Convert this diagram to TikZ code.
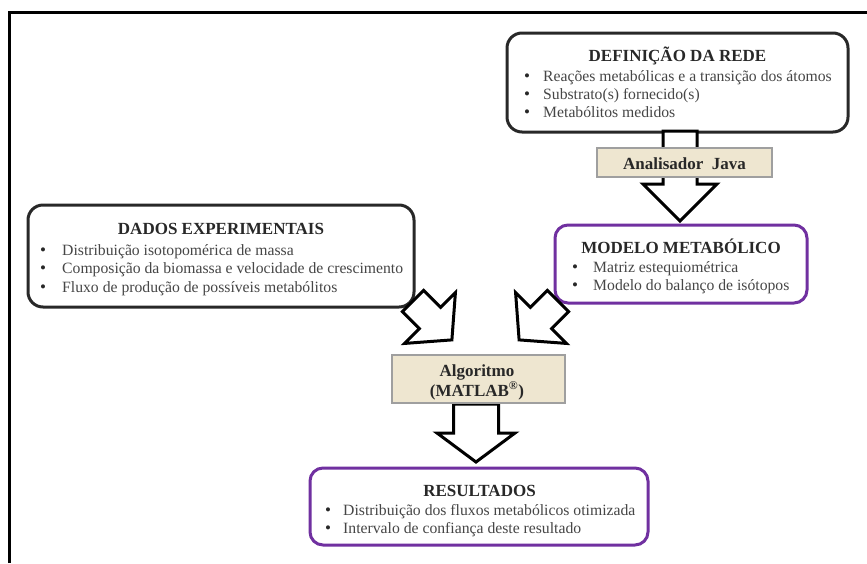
\documentclass[tikz,border=0pt]{standalone}
\usepackage{fontspec}
\setmainfont{Liberation Serif}
\definecolor{purp}{RGB}{112,48,160}
\definecolor{beige}{RGB}{238,230,208}
\definecolor{ink}{RGB}{40,40,40}
\definecolor{body}{RGB}{70,70,70}
% block arrow: tail point, direction angle, length, shaft half width, head half width, head length
\newcommand\blockarrow[7]{%
  \begin{scope}[shift={(#1,#2)},rotate=#3]
    \draw[arrowline] (0,-#5) -- ({#4-#7},-#5) -- ({#4-#7},-#6) -- (#4,0)
      -- ({#4-#7},#6) -- ({#4-#7},#5) -- (0,#5) -- cycle;
  \end{scope}}
\begin{document}
\begin{tikzpicture}[x=1pt,y=-1pt,
  darkbox/.style={draw=ink,line width=3pt,rounded corners=15pt,fill=white,inner sep=0pt,outer sep=0pt},
  purpbox/.style={draw=purp,line width=3pt,rounded corners=13pt,fill=white,inner sep=0pt,outer sep=0pt},
  tanbox/.style={draw=gray!75,line width=1.5pt,fill=beige,inner sep=0pt,outer sep=0pt},
  arrowline/.style={draw=black,line width=3pt,fill=white,line join=miter},
  boxtitle/.style={anchor=base,inner sep=0pt,text=ink,font=\fontsize{17}{20}\selectfont\bfseries},
  item/.style={anchor=base west,inner sep=0pt,text=body,font=\fontsize{15.7}{18}\selectfont},
  dot/.style={anchor=base,inner sep=0pt,text=ink,font=\fontsize{17}{18}\selectfont}]
\useasboundingbox (0,0) rectangle (867,563);
\fill[white] (0,0) rectangle (867,563);
% outer frame
\draw[line width=3pt] (9,563) -- (9,12.5) -- (867,12.5);

% boxes
\node[darkbox,minimum width=341,minimum height=99] (defBox) at (677.5,82.5) {};
\node[darkbox,minimum width=386,minimum height=102] (dadBox) at (221,256) {};
\node[purpbox,minimum width=252,minimum height=78] (modBox) at (681,264) {};
\node[purpbox,minimum width=338,minimum height=77] (resBox) at (479,506.5) {};

% block arrows
\blockarrow{680}{131}{-90}{90}{17}{37}{37}
\blockarrow{413}{301}{-45}{55}{15}{36}{31}
\blockarrow{558}{301}{-135}{55}{15}{36}{31}
\blockarrow{476}{404}{-90}{58}{22.5}{39}{29}

\node[tanbox,minimum width=175,minimum height=29] (javaBox) at (684.5,162.5) {};
\node[tanbox,minimum width=173,minimum height=48] (algBox) at (478.5,379) {};

% texts
\node[boxtitle] (defTitle) at (677.5,61) {DEFINIÇÃO DA REDE};
\node[dot] (defD1) at (527,81) {\textbullet};
\node[item] (defI1) at (543,81) {Reações metabólicas e a transição dos átomos};
\node[dot] (defD2) at (527,99) {\textbullet};
\node[item] (defI2) at (543,99) {Substrato(s) fornecido(s)};
\node[dot] (defD3) at (527,117) {\textbullet};
\node[item] (defI3) at (543,117) {Metabólitos medidos};

\node[boxtitle] (dadTitle) at (221,234) {DADOS EXPERIMENTAIS};
\node[dot] (dadD1) at (43,255) {\textbullet};
\node[item] (dadI1) at (62,255) {Distribuição isotopomérica de massa};
\node[dot] (dadD2) at (43,273) {\textbullet};
\node[item] (dadI2) at (62,273) {Composição da biomassa e velocidade de crescimento};
\node[dot] (dadD3) at (43,292) {\textbullet};
\node[item] (dadI3) at (62,292) {Fluxo de produção de possíveis metabólitos};

\node[boxtitle] (modTitle) at (681,253) {MODELO METABÓLICO};
\node[dot] (modD1) at (575,272) {\textbullet};
\node[item] (modI1) at (593,272) {Matriz estequiométrica};
\node[dot] (modD2) at (575,290) {\textbullet};
\node[item] (modI2) at (593,290) {Modelo do balanço de isótopos};

\node[boxtitle] (resTitle) at (479.5,496) {RESULTADOS};
\node[dot] (resD1) at (328,515) {\textbullet};
\node[item] (resI1) at (343,515) {Distribuição dos fluxos metabólicos otimizada};
\node[dot] (resD2) at (328,533) {\textbullet};
\node[item] (resI2) at (343,533) {Intervalo de confiança deste resultado};

\node[boxtitle] (javaText) at (684.5,169) {Analisador\ \ Java};
\node[boxtitle] (algText1) at (477,376) {Algoritmo};
\node[boxtitle] (algText2) at (477,396) {(MATLAB\textsuperscript{®})};
\end{tikzpicture}
\end{document}
